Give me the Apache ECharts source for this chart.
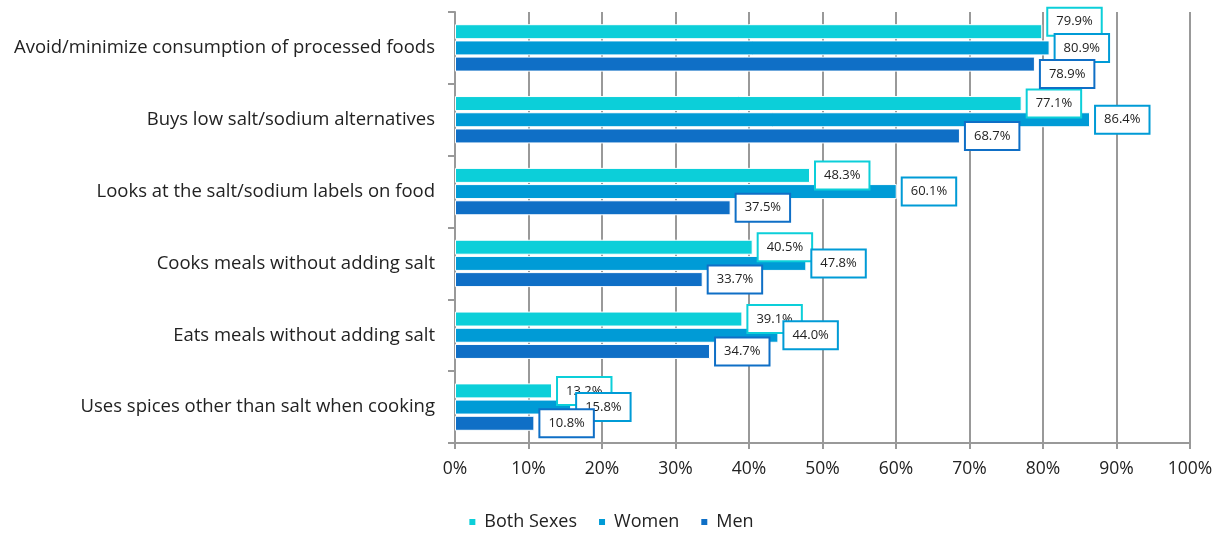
<!DOCTYPE html>
<html><head><meta charset="utf-8">
<script src="https://cdn.jsdelivr.net/npm/echarts@6/dist/echarts.min.js"></script>
<style>html,body{margin:0;padding:0;background:#fff}#c{width:1221px;height:534px}</style>
</head><body><div id="c"></div>
<script>
const categories = [
  "Avoid/minimize consumption of processed foods",
  "Buys low salt/sodium alternatives",
  "Looks at the salt/sodium labels on food",
  "Cooks meals without adding salt",
  "Eats meals without adding salt",
  "Uses spices other than salt when cooking"
];
const seriesNames = ["Both Sexes", "Women", "Men"];
const bothSexes = [79.9, 77.1, 48.3, 40.5, 39.1, 13.2];
const women = [80.9, 86.4, 60.1, 47.8, 44.0, 15.8];
const men = [78.9, 68.7, 37.5, 33.7, 34.7, 10.8];
const colors = ["#0ccfd9", "#009bd6", "#0f6fc6"];
const FONT = "'Open Sans', sans-serif";

// vertical nudges for crowded labels in first group (style only)
const firstNudge = [-10, 0, 10];

const chart = echarts.init(document.getElementById('c'), null, {renderer:'canvas'});
const allVals = [bothSexes, women, men];
const series = allVals.map((vals, s) => ({
  name: seriesNames[s],
  type: 'bar',
  barWidth: 15,
  barGap: '8%',
  itemStyle: {color: colors[s], borderColor: '#fff', borderWidth: 1},
  data: vals.map((v, i) => i === 0 && firstNudge[s] !== 0 ? {value: v, label: {offset: [0, firstNudge[s]]}} : v),
  label: {
    show: true, position: 'right', distance: 6,
    formatter: p => p.value.toFixed(1) + '%',
    fontFamily: FONT, fontSize: 13, lineHeight: 15, color: '#222',
    backgroundColor: '#fff', borderColor: colors[s], borderWidth: 2,
    padding: [6, 8, 5, 8]
  }
}));

chart.setOption({
  animation: false,
  grid: {left: 455, right: 31, top: 12, bottom: 91, containLabel: false},
  legend: {
    data: seriesNames, top: 508, left: 'center', itemWidth: 8, itemHeight: 8, itemGap: 20,
    icon: 'rect',
    textStyle: {fontFamily: FONT, fontSize: 18, color: '#222', padding: [0, 0, 0, 3]}
  },
  xAxis: {
    type: 'value', min: 0, max: 100, interval: 10,
    axisLine: {show: true, lineStyle: {color: '#999', width: 2}},
    axisTick: {show: true, length: 6, lineStyle: {color: '#999', width: 2}},
    axisLabel: {formatter: '{value}%', fontFamily: FONT, fontSize: 17.5, color: '#222', margin: 17},
    splitLine: {show: true, lineStyle: {color: '#999', width: 2}}
  },
  yAxis: {
    type: 'category', data: categories, inverse: true,
    axisLine: {show: true, lineStyle: {color: '#999', width: 2}},
    axisTick: {show: true, length: 7, lineStyle: {color: '#999', width: 2}},
    axisLabel: {fontFamily: FONT, fontSize: 18.5, color: '#222', margin: 20},
    splitLine: {show: false}
  },
  series: series
});
</script></body></html>
